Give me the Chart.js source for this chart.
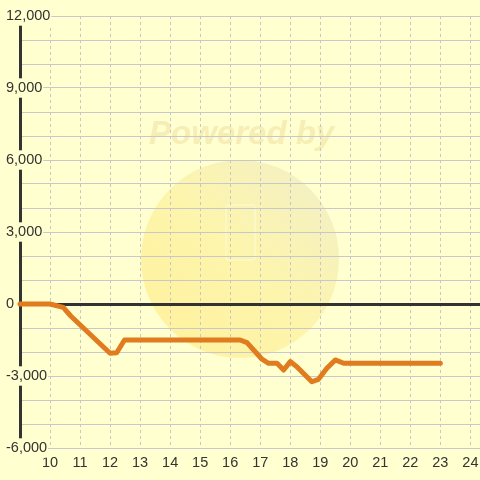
<!DOCTYPE html>
<html lang="en">
<head>
    <meta charset="UTF-8">
    <title>Line chart</title>
    <style>
        body {
            margin: 0;
            background: #ffffd0;
        }
        .chart-box {
            width: 480px;
            height: 480px;
        }
    </style>
</head>
<body>
    <div class="chart-box">
        <canvas id="lineChart" width="480" height="480"></canvas>
    </div>

    <script src="https://cdn.jsdelivr.net/npm/chart.js"></script>
    <script>
        // time of day (hours) and value
        const hours = [9, 10, 10.44, 10.69, 12, 12.22, 12.48, 16.33, 16.56, 17.06, 17.28, 17.56, 17.78, 18, 18.22, 18.72, 18.94, 19.22, 19.5, 19.78, 23];
        const values = [0, 0, -140, -500, -2050, -2030, -1500, -1500, -1610, -2300, -2470, -2470, -2750, -2400, -2610, -3240, -3140, -2680, -2330, -2470, -2470];

        const xMin = 9;
        const xMax = 24.32;
        const yMin = -6000;
        const yMax = 12000;
        const yLabelStep = 3000;

        const points = hours.map((h, i) => ({ x: h, y: values[i] }));

        // faint watermark behind the grid
        const watermark = {
            id: 'watermark',
            beforeDraw(chart) {
                const c = chart.ctx;
                c.save();
                const g = c.createLinearGradient(170, 330, 310, 190);
                g.addColorStop(0, '#fff2a0');
                g.addColorStop(0.5, '#fdf5ac');
                g.addColorStop(1, '#f5f1c0');
                c.fillStyle = g;
                c.beginPath();
                c.arc(240, 259, 99, 0, Math.PI * 2);
                c.fill();
                c.strokeStyle = 'rgba(255,255,230,0.45)';
                c.lineWidth = 1.5;
                c.beginPath();
                c.roundRect(226, 205, 29, 55, 3);
                c.stroke();
                c.fillStyle = '#f6eeb4';
                c.font = 'italic bold 33px "Liberation Sans", Arial, sans-serif';
                c.textBaseline = 'alphabetic';
                c.fillText('Powered by', 149, 144);
                c.restore();
            }
        };

        Chart.defaults.font.family = '"Liberation Sans", Arial, sans-serif';
        Chart.defaults.font.size = 14.5;
        Chart.defaults.color = '#333';

        new Chart(document.getElementById('lineChart'), {
            type: 'line',
            data: {
                datasets: [{
                    data: points,
                    borderColor: '#e07b20',
                    borderWidth: 5,
                    pointRadius: 0,
                    tension: 0,
                    fill: false,
                    borderCapStyle: 'round',
                    borderJoinStyle: 'round',
                    clip: false
                }]
            },
            options: {
                responsive: false,
                animation: false,
                layout: { padding: { left: 20, right: 0, top: 16, bottom: 3 } },
                plugins: {
                    legend: { display: false },
                    tooltip: { enabled: false }
                },
                scales: {
                    x: {
                        type: 'linear',
                        min: xMin,
                        max: xMax,
                        grid: {
                            color: '#c6c6c6',
                            lineWidth: 1,
                            drawTicks: false
                        },
                        border: { display: false, dash: [3, 3] },
                        ticks: {
                            stepSize: 1,
                            includeBounds: false,
                            padding: 0,
                            font: { size: 14.5, lineHeight: 2 },
                            callback: v => (v >= 10 ? String(v) : '')
                        }
                    },
                    y: {
                        min: yMin,
                        max: yMax,
                        afterFit: scale => { scale.width = 0; },
                        border: { display: true, color: '#333', width: 3 },
                        grid: {
                            drawTicks: false,
                            color: ctx => (ctx.tick && ctx.tick.value === 0 ? '#333' : '#c8c8cc'),
                            lineWidth: ctx => (ctx.tick && ctx.tick.value === 0 ? 3 : 1)
                        },
                        ticks: {
                            stepSize: 1000,
                            mirror: true,
                            padding: -14,
                            showLabelBackdrop: true,
                            backdropColor: '#ffffd0',
                            backdropPadding: 1,
                            callback: v => (v % yLabelStep === 0 ? v.toLocaleString('en-US') : '')
                        }
                    }
                }
            },
            plugins: [watermark]
        });
    </script>
</body>
</html>
